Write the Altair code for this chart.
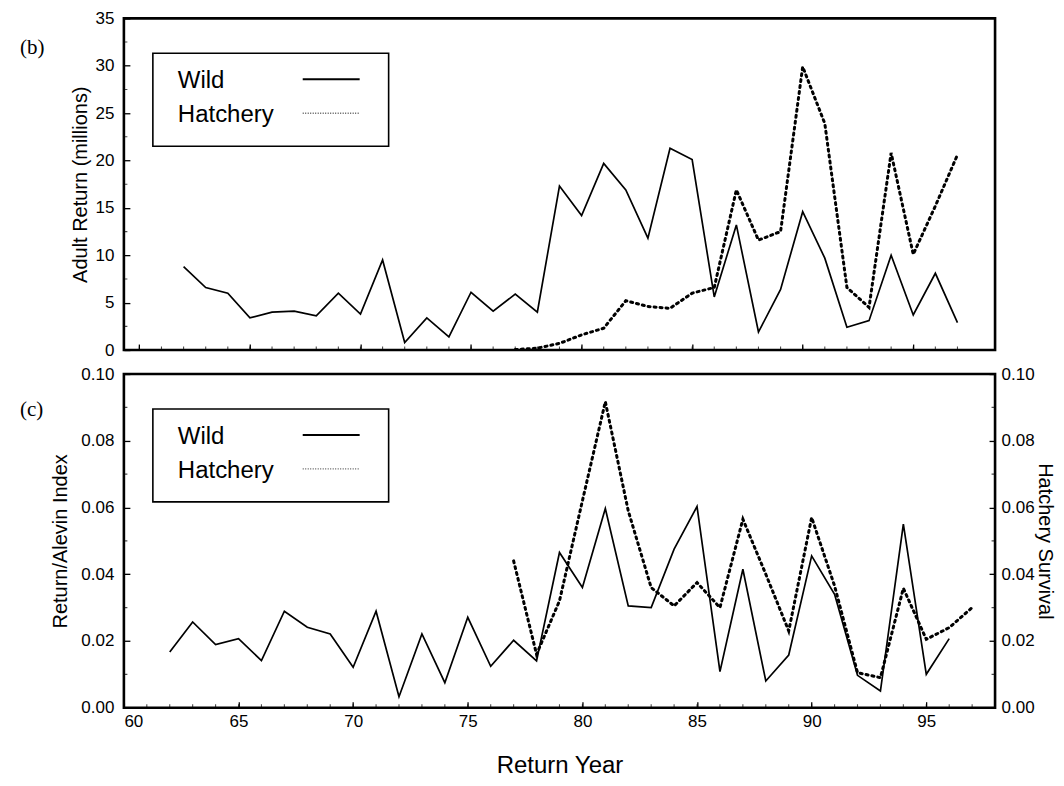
import altair as alt
import pandas as pd

# ---------------- data ----------------
top_wild_years = list(range(62, 98))
top_wild = [8.8, 6.6, 6.0, 3.4, 4.0, 4.1, 3.6, 6.0, 3.8, 9.5, 0.8, 3.4, 1.4, 6.1,
            4.1, 5.9, 4.0, 17.3, 14.2, 19.7, 16.9, 11.8, 21.3, 20.1, 5.6, 13.2,
            1.9, 6.4, 14.6, 9.7, 2.4, 3.1, 10.0, 3.7, 8.1, 2.9]

top_hatch_years = list(range(77, 98))
top_hatch = [0.05, 0.2, 0.7, 1.6, 2.3, 5.2, 4.6, 4.4, 6.0, 6.6, 16.9, 11.6, 12.5,
             29.9, 23.9, 6.6, 4.5, 20.8, 10.1, 15.2, 20.6]

bot_wild_years = list(range(62, 97))
bot_wild = [0.0167, 0.0257, 0.0189, 0.0207, 0.0141, 0.0289, 0.0241, 0.0221, 0.0121,
            0.0289, 0.0033, 0.0221, 0.0075, 0.0271, 0.0124, 0.0202, 0.0140, 0.0465,
            0.0360, 0.0597, 0.0305, 0.0300, 0.0475, 0.0603, 0.0108, 0.0415, 0.0080,
            0.0158, 0.0455, 0.0340, 0.0097, 0.0050, 0.0550, 0.0100, 0.0207]

bot_hatch_years = list(range(77, 98))
bot_hatch = [0.0440, 0.0160, 0.0320, 0.0620, 0.0917, 0.0590, 0.0360, 0.0305, 0.0375,
             0.0300, 0.0565, 0.0400, 0.0230, 0.0570, 0.0365, 0.0105, 0.0090, 0.0358,
             0.0205, 0.0240, 0.0300]

x_ticks = [60, 65, 70, 75, 80, 85, 90, 95]
x_minor = [60, 61, 62, 63, 64, 65, 66, 67, 68, 69, 70, 71, 72, 73, 74, 75, 76, 77, 78,
           79, 80, 81, 82, 83, 84, 85, 86, 87, 88, 89, 90, 91, 92, 93, 94, 95, 96, 97]
top_y_ticks = [0, 5, 10, 15, 20, 25, 30, 35]
top_y_minor = [2.5, 7.5, 12.5, 17.5, 22.5, 27.5, 32.5]
bot_y_ticks = [0.0, 0.02, 0.04, 0.06, 0.08, 0.10]
bot_y_minor = [0.01, 0.03, 0.05, 0.07, 0.09]
legend_labels = ["Wild", "Hatchery"]

df_tw = pd.DataFrame({"year": top_wild_years, "value": top_wild})
df_th = pd.DataFrame({"year": top_hatch_years, "value": top_hatch})
df_bw = pd.DataFrame({"year": bot_wild_years, "value": bot_wild})
df_bh = pd.DataFrame({"year": bot_hatch_years, "value": bot_hatch})
df_xminor = pd.DataFrame({"year": x_minor})
df_tyminor = pd.DataFrame({"value": top_y_minor})
df_byminor = pd.DataFrame({"value": bot_y_minor})
one = pd.DataFrame({"k": [0]})

FONT = "Liberation Sans"
W = 872
HT = 332
HB = 334
DOT = [2, 4]
inward = {"expr": "-6"}


def legend_layers():
    box = alt.Chart(one).mark_rect(fill="white", stroke="black", strokeWidth=1.6).encode(
        x=alt.value(29), x2=alt.value(265), y=alt.value(35), y2=alt.value(128))
    t1 = alt.Chart(one).mark_text(text=legend_labels[0], font=FONT, fontSize=24, align="left",
                                  baseline="middle", color="black").encode(
        x=alt.value(54), y=alt.value(63))
    t2 = alt.Chart(one).mark_text(text=legend_labels[1], font=FONT, fontSize=24, align="left",
                                  baseline="middle", color="black").encode(
        x=alt.value(54), y=alt.value(97))
    r1 = alt.Chart(one).mark_rule(color="black", strokeWidth=2).encode(
        x=alt.value(179), x2=alt.value(236), y=alt.value(61))
    r2 = alt.Chart(one).mark_rule(color="#555", strokeWidth=1.3, strokeDash=[1, 1.5]).encode(
        x=alt.value(179), x2=alt.value(236), y=alt.value(95))
    return [box, t1, t2, r1, r2]


def panel_label(txt, y):
    return alt.Chart(one).mark_text(text=txt, font="Liberation Serif", fontSize=21,
                                    align="left", baseline="middle", color="black").encode(
        x=alt.value(-104), y=alt.value(y))


# ---------------- top panel ----------------
xt = alt.X("year:Q", scale=alt.Scale(domain=[59.3, 98.7], nice=False, zero=False),
           axis=alt.Axis(values=x_ticks, labels=False, title=None))
yt = alt.Y("value:Q", scale=alt.Scale(domain=[0, 35], nice=False),
           axis=alt.Axis(values=top_y_ticks, title="Adult Return (millions)",
                         labelPadding=16, titlePadding=5))

top_wild_line = alt.Chart(df_tw).mark_line(color="black", strokeWidth=1.7).encode(x=xt, y=yt)
top_hatch_line = alt.Chart(df_th).mark_line(color="black", strokeWidth=3, strokeDash=DOT,
                                            strokeCap="round").encode(x=xt, y=yt)
top_xminor = alt.Chart(df_xminor).mark_tick(color="black", thickness=1.1, size=7,
                                            orient="vertical", clip=True).encode(
    x=xt, y=alt.value(HT))
top_yminor = alt.Chart(df_tyminor).mark_tick(color="black", thickness=1.1, size=7,
                                             orient="horizontal", clip=True).encode(
    y=yt, x=alt.value(0))

top = alt.layer(top_wild_line, top_hatch_line, top_xminor, top_yminor,
                *legend_layers(), panel_label("(b)", 30)).properties(width=W, height=HT)

# ---------------- bottom panel ----------------
xb = alt.X("year:Q", scale=alt.Scale(domain=[60, 98], nice=False, zero=False),
           axis=alt.Axis(values=x_ticks, title="Return Year", labelPadding=12,
                         titleFontSize=24, titlePadding=24))
yb_left = alt.Y("value:Q", scale=alt.Scale(domain=[0, 0.1], nice=False),
                axis=alt.Axis(values=bot_y_ticks, format=".2f", title="Return/Alevin Index",
                              labelPadding=16, titlePadding=10))
yb_right = alt.Y("value:Q", scale=alt.Scale(domain=[0, 0.1], nice=False),
                 axis=alt.Axis(values=bot_y_ticks, format=".2f", title="Hatchery Survival",
                               orient="right", labelPadding=12, titlePadding=0))
yb_plain = alt.Y("value:Q", scale=alt.Scale(domain=[0, 0.1], nice=False), axis=None)

bot_wild_line = alt.Chart(df_bw).mark_line(color="black", strokeWidth=1.7).encode(x=xb, y=yb_left)
bot_hatch_line = alt.Chart(df_bh).mark_line(color="black", strokeWidth=3, strokeDash=DOT,
                                            strokeCap="round").encode(x=xb, y=yb_right)
bot_xminor = alt.Chart(df_xminor).mark_tick(color="black", thickness=1.1, size=7,
                                            orient="vertical", clip=True).encode(
    x=xb, y=alt.value(HB))
bot_yminor_l = alt.Chart(df_byminor).mark_tick(color="black", thickness=1.1, size=7,
                                               orient="horizontal", clip=True).encode(
    y=yb_plain, x=alt.value(0))
bot_yminor_r = alt.Chart(df_byminor).mark_tick(color="black", thickness=1.1, size=7,
                                               orient="horizontal", clip=True).encode(
    y=yb_plain, x=alt.value(W))

bottom = alt.layer(bot_wild_line, bot_hatch_line, bot_xminor, bot_yminor_l, bot_yminor_r,
                   *legend_layers(), panel_label("(c)", 36)
                   ).resolve_scale(y="independent").properties(width=W, height=HB)

chart = alt.vconcat(top, bottom, spacing=3).properties(
    padding={"left": 10, "top": -1, "right": 0, "bottom": 0},
    background="white"
).configure_view(
    stroke="black", strokeWidth=2.6
).configure_axis(
    labelFont=FONT, titleFont=FONT, labelFontSize=17, titleFontSize=20,
    labelColor="black", titleColor="black", titleFontWeight="normal",
    tickColor="black", tickWidth=1.3, tickSize=inward, labelPadding=10,
    grid=False, domain=False
)

chart.save("out.html", embed_options={"renderer": "svg", "actions": False})
